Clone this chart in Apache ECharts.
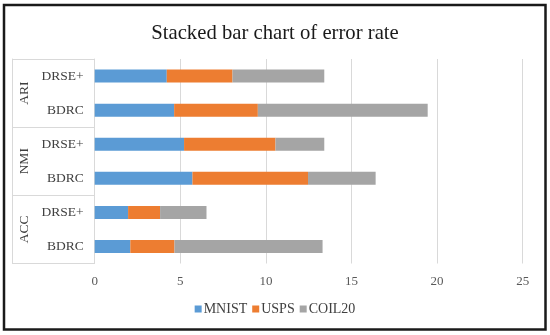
<!DOCTYPE html>
<html>
<head>
<meta charset="utf-8">
<script src="https://cdn.jsdelivr.net/npm/echarts@6/dist/echarts.min.js"></script>
<style>html,body{margin:0;padding:0;background:#fff;}#c{width:550px;height:335px;}</style>
</head>
<body>
<div id="c"></div>
<script>
const subCategories = ['BDRC', 'DRSE+', 'BDRC', 'DRSE+', 'BDRC', 'DRSE+'];
const groupCategories = ['ACC', 'NMI', 'ARI'];
const seriesNames = ['MNIST', 'USPS', 'COIL20'];
const mnist = [2.08, 1.95, 5.71, 5.22, 4.64, 4.21];
const usps = [2.58, 1.87, 6.75, 5.34, 4.89, 3.84];
const coil20 = [8.65, 2.71, 3.95, 2.85, 9.92, 5.36];
const xTicks = [0, 5, 10, 15, 20, 25];

const serif = "'Liberation Serif', 'Times New Roman', serif";
const colors = ['#5B9BD5', '#ED7D31', '#A5A5A5'];
const chart = echarts.init(document.getElementById('c'));
const values = [mnist, usps, coil20];
chart.setOption({
  animation: false,
  color: colors,
  title: {
    text: 'Stacked bar chart of error rate',
    left: 'center',
    top: 18,
    textStyle: { fontFamily: serif, fontSize: 20.7, fontWeight: 'normal', color: '#1a1a1a' }
  },
  legend: {
    data: seriesNames,
    bottom: 14,
    left: 'center',
    itemWidth: 7,
    itemHeight: 7,
    itemGap: 5,
    icon: 'rect',
    textStyle: { fontFamily: serif, fontSize: 14, color: '#404040', padding: [0, 0, 0, -3] }
  },
  grid: { left: 94.7, right: 27.3, top: 59, bottom: 71.5 },
  xAxis: {
    type: 'value',
    min: xTicks[0],
    max: xTicks[xTicks.length - 1],
    interval: 5,
    axisLine: { show: false },
    axisTick: { show: false },
    splitLine: { lineStyle: { color: '#D9D9D9', width: 1 } },
    axisLabel: { fontFamily: serif, fontSize: 13, color: '#595959', margin: 12 }
  },
  yAxis: [
    {
      type: 'category',
      data: subCategories,
      axisLine: { show: true, lineStyle: { color: '#D9D9D9' } },
      axisTick: { show: false },
      axisLabel: { fontFamily: serif, fontSize: 13.5, color: '#404040', margin: 11 }
    },
    {
      type: 'category',
      data: groupCategories,
      position: 'left',
      offset: 82.5,
      axisLine: { show: true, lineStyle: { color: '#D9D9D9' } },
      axisTick: { show: true, inside: true, length: 82.5, lineStyle: { color: '#D9D9D9' } },
      axisLabel: { inside: true, rotate: 90, margin: 5, fontFamily: serif, fontSize: 13.5, color: '#404040' }
    }
  ],
  series: seriesNames.map((name, i) => ({
    name: name,
    type: 'bar',
    stack: 'total',
    yAxisIndex: 0,
    barWidth: 13,
    data: values[i]
  })),
  graphic: [{
    type: 'rect',
    shape: { x: 4, y: 5, width: 541.5, height: 324.5 },
    style: { fill: 'none', stroke: '#1a1a1a', lineWidth: 2.5 },
    silent: true
  }]
});
</script>
</body>
</html>
